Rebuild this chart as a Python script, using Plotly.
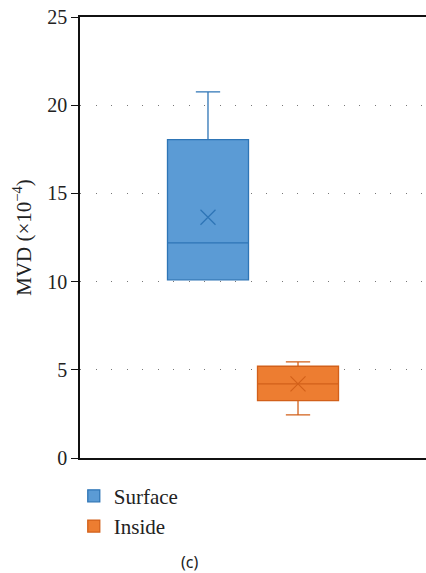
import plotly.graph_objects as go

groups = ["Surface", "Inside"]
q1 = [10.1, 3.25]
median = [12.2, 4.2]
q3 = [18.05, 5.2]
lower = [10.1, 2.45]
upper = [20.75, 5.45]
means = [13.65, 4.2]
fills = ["#5B9BD5", "#ED7D31"]
lines = ["#2E75B6", "#D2601A"]
y_ticks = [0, 5, 10, 15, 20, 25]

fig = go.Figure()
for i, g in enumerate(groups):
    fig.add_trace(go.Box(
        x=[g], q1=[q1[i]], median=[median[i]], q3=[q3[i]],
        lowerfence=[lower[i]], upperfence=[upper[i]],
        name=g, fillcolor=fills[i], width=0.9,
        line=dict(color=lines[i], width=1.3),
        whiskerwidth=0.3, boxpoints=False, hoverinfo="skip",
    ))
for i, g in enumerate(groups):
    fig.add_trace(go.Scatter(
        x=[g], y=[means[i]], mode="markers", showlegend=False,
        marker=dict(symbol="x-thin", size=15, line=dict(color=lines[i], width=1.2)),
        hoverinfo="skip",
    ))

font = "Liberation Serif, Times New Roman, serif"
PW, PH = 346, 441
fig.update_layout(
    width=426, height=573,
    margin=dict(l=80, r=0, t=17, b=115),
    plot_bgcolor="white", paper_bgcolor="white",
    font=dict(family=font, size=20, color="#222"),
    boxmode="overlay",
    showlegend=True,
    legend=dict(x=-0.018, y=-0.04, xanchor="left", yanchor="top",
                font=dict(family=font, size=21, color="#222"),
                bgcolor="rgba(0,0,0,0)", tracegroupgap=0, itemwidth=30),
    xaxis=dict(range=[-1.422, 2.422], showticklabels=False, ticks="",
               showline=True, linecolor="#111", linewidth=1.5, mirror=True,
               showgrid=False, zeroline=False, fixedrange=True),
    yaxis=dict(range=[0, 25], tickvals=y_ticks, ticks="outside", ticklen=7,
               tickcolor="#111", tickwidth=1.3,
               showline=True, linecolor="#111", linewidth=1.5,
               showgrid=True, gridcolor="#777", gridwidth=1, griddash="1px,14.5px",
               zeroline=False,
               title=dict(text="MVD (×10<sup>−4</sup>)", standoff=10,
                          font=dict(family=font, size=21, color="#222")),
               tickfont=dict(family=font, size=20, color="#222")),
    annotations=[dict(text="(c)", x=(189 - 80) / PW, y=(458 - 562) / PH,
                      xref="paper", yref="paper", xanchor="center", yanchor="middle",
                      showarrow=False,
                      font=dict(family="Noto Sans, sans-serif", size=16, color="#222"))],
)
fig.write_html(
    "out.html",
    config={"displayModeBar": False, "responsive": False},
    post_script="document.body.style.margin='0';document.body.style.overflow='hidden';",
)
